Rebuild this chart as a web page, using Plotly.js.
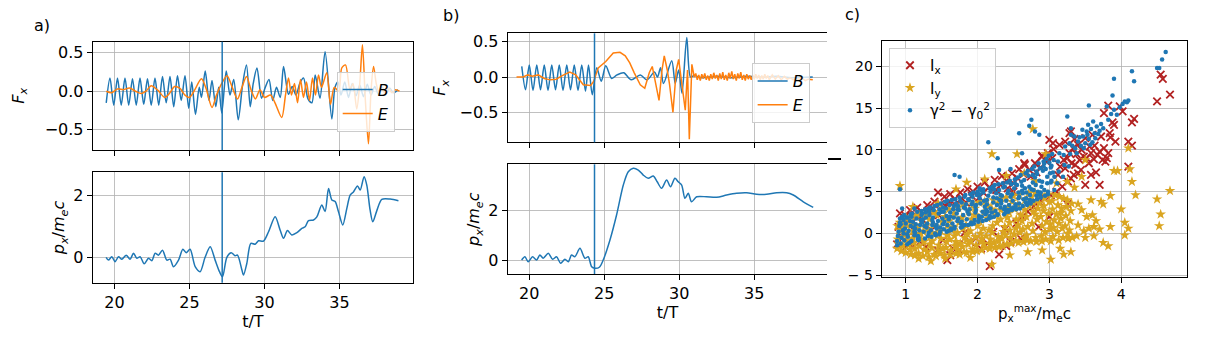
<!DOCTYPE html>
<html>
<head>
<meta charset="utf-8">
<script src="https://cdn.plot.ly/plotly-3.0.1.min.js"></script>
<style>
  html, body { margin: 0; padding: 0; background: #ffffff; }
  #chart { width: 1209px; height: 338px; }
</style>
</head>
<body>
<div id="chart"></div>
<script>
// panel a) : force components (t/T, F_x) and momentum
const markA = 27.18;
const bForceA = [
  [19.45,-0.15],[19.7,0.17],[19.95,-0.18],[20.2,0.17],[20.45,-0.18],[20.7,0.17],[20.95,-0.18],
  [21.2,0.16],[21.45,-0.18],[21.7,0.17],[21.95,-0.17],[22.2,0.16],[22.45,-0.18],[22.7,0.17],
  [22.95,-0.18],[23.2,0.19],[23.45,-0.15],[23.7,0.19],[23.95,-0.2],[24.2,0.2],[24.45,-0.12],
  [24.7,0.2],[24.95,-0.22],[25.15,0.12],[25.4,-0.3],[25.65,0.05],[25.8,-0.08],[26.05,0.26],
  [26.3,-0.12],[26.5,0.14],[26.75,-0.2],[26.95,0.05],[27.15,-0.28],[27.45,0.26],[27.7,-0.05],
  [27.95,0.15],[28.25,-0.37],[28.55,0.1],[28.8,0.34],[29.05,-0.2],[29.25,0.1],[29.5,0.3],
  [29.8,-0.09],[30.05,0.05],[30.3,0.15],[30.55,-0.12],[30.8,0.05],[31.05,-0.08],[31.27,0.32],
  [31.6,-0.04],[31.85,0.06],[32.1,-0.05],[32.35,0.1],[32.6,0.17],[32.9,-0.1],[33.16,-0.15],
  [33.38,0.21],[33.7,-0.09],[34.04,0.51],[34.49,-0.36],[34.7,0.05],[34.9,0.12],[35.1,-0.05],
  [35.35,0.12],[35.6,-0.08],[35.85,0.1],[36.1,-0.06],[36.35,0.08],[36.6,-0.07],[36.85,0.09],
  [37.1,-0.05],[37.35,0.06],[37.6,-0.04],[37.85,0.05],[38.1,-0.03],[38.35,0.04],[38.6,-0.02],[38.9,0.02]
];
const eForceA = [
  [19.45,0.0],[19.8,-0.02],[20.2,0.03],[20.6,0.02],[21.0,0.04],[21.4,0.0],[21.8,-0.03],[22.1,0.0],
  [22.45,0.07],[22.9,0.01],[23.35,-0.08],[23.7,-0.02],[24.0,0.06],[24.35,0.04],[24.7,-0.05],
  [25.0,-0.08],[25.3,0.0],[25.8,0.16],[26.1,0.04],[26.5,-0.21],[26.8,-0.05],[27.15,0.1],[27.5,0.2],
  [27.85,0.05],[28.2,-0.1],[28.5,0.05],[28.8,0.19],[29.1,0.02],[29.4,-0.1],[29.7,0.02],[30.0,-0.08],
  [30.4,-0.05],[30.7,-0.15],[31.15,-0.34],[31.4,-0.05],[31.6,0.17],[31.8,-0.05],[32.0,0.1],
  [32.2,-0.15],[32.4,0.15],[32.6,-0.08],[32.8,0.12],[33.0,-0.12],[33.2,0.17],[33.4,-0.05],
  [33.6,0.21],[33.8,0.05],[34.15,0.24],[34.4,-0.17],[34.65,0.05],[34.95,0.0],[35.15,0.3],
  [35.4,0.34],[35.7,0.02],[35.9,0.1],[36.15,-0.23],[36.35,0.1],[36.53,0.6],[36.72,-0.1],
  [36.93,-0.68],[37.1,0.0],[37.27,0.32],[37.45,0.1],[37.6,0.0],[37.8,0.05],[38.0,-0.02],
  [38.25,0.04],[38.5,-0.02],[38.75,0.02],[39.0,0.0]
];
const momentumA = [
  [19.44,0],[19.6,-0.09],[19.82,0.02],[20.04,-0.14],[20.27,0.02],[20.49,-0.06],[20.78,0.07],
  [21.04,-0.06],[21.27,0.13],[21.49,-0.03],[21.71,0.02],[21.98,-0.21],[22.27,-0.03],[22.49,-0.11],
  [22.71,0.13],[22.93,0.07],[23.2,0.23],[23.49,-0.09],[23.71,-0.06],[23.93,-0.3],[24.27,-0.09],
  [24.56,0.26],[24.78,0.15],[25.04,0.26],[25.38,-0.3],[25.71,-0.46],[26.04,0.0],[26.38,0.34],
  [26.71,-0.09],[27.0,-0.46],[27.2,-0.62],[27.49,0.0],[27.78,0.15],[28.04,0.05],[28.2,0.07],
  [28.49,-0.4],[28.6,-0.57],[28.82,-0.2],[29.09,0.45],[29.38,0.42],[29.6,0.53],[29.93,0.52],
  [30.27,0.82],[30.71,1.3],[31.04,0.88],[31.27,0.61],[31.53,0.86],[31.82,0.72],[32.16,0.79],
  [32.49,0.93],[32.71,0.98],[32.93,1.18],[33.27,1.2],[33.49,1.3],[33.82,1.68],[34.04,1.47],
  [34.27,2.21],[34.49,1.84],[34.71,1.79],[34.93,1.47],[35.22,1.04],[35.49,1.57],[35.71,2.0],
  [35.93,2.1],[36.2,2.29],[36.38,2.16],[36.64,2.59],[36.82,2.32],[37.04,1.52],[37.22,1.14],
  [37.49,1.5],[37.82,1.86],[38.38,1.87],[38.93,1.82]
];

// panel b)
const markB = 24.35;
const bForceB = [
  [19.5,0.15],[19.75,-0.18],[20.0,0.17],[20.25,-0.19],[20.5,0.17],[20.75,-0.18],[21.0,0.17],
  [21.25,-0.19],[21.5,0.17],[21.75,-0.18],[22.0,0.17],[22.25,-0.19],[22.5,0.17],[22.75,-0.18],
  [23.0,0.17],[23.25,-0.19],[23.5,0.17],[23.75,-0.2],[23.95,0.17],[24.2,-0.25],[24.5,0.13],
  [24.8,-0.06],[25.1,0.16],[25.5,-0.02],[25.85,0.03],[26.3,0.06],[26.8,-0.04],[27.4,0.03],
  [27.85,-0.04],[28.35,0.07],[28.55,0.0],[28.75,0.13],[28.95,-0.09],[29.5,0.23],[29.73,-0.09],
  [29.96,0.1],[30.18,-0.23],[30.5,0.56],[30.75,0.0],[31.0,0.02],[31.5,-0.01],[32.5,0.01],
  [33.5,-0.01],[34.5,0.01],[35.5,0.0],[36.5,0.01],[37.5,-0.01],[38.9,0.0]
];
const eForceB = [
  [19.15,0.0],[19.6,0.0],[19.9,0.03],[20.2,0.01],[20.6,0.03],[21.0,-0.02],[21.4,-0.04],[21.8,-0.03],
  [22.2,0.02],[22.7,0.07],[23.1,0.03],[23.6,-0.11],[24.1,-0.12],[24.3,-0.06],[24.6,0.13],[24.9,0.18],
  [25.1,0.22],[25.6,0.34],[26.05,0.35],[26.4,0.3],[26.7,0.2],[27.0,0.06],[27.4,-0.11],[27.7,-0.16],
  [28.0,0.06],[28.2,0.15],[28.4,-0.09],[28.65,-0.33],[28.85,0.1],[29.0,0.3],[29.2,0.1],[29.35,-0.1],
  [29.58,-0.5],[29.8,0.1],[29.96,0.25],[30.15,-0.1],[30.4,-0.47],[30.55,0.1],[30.67,-0.88],
  [30.84,0.18],[31.0,0.0],[31.1,0.05],[31.2,-0.04],[31.3,0.03],[31.4,-0.05],[31.5,0.04],[31.6,-0.02],
  [31.7,0.05],[31.8,-0.04],[31.9,0.02],[32.0,-0.05],[32.1,0.04],[32.2,-0.03],[32.3,0.06],[32.4,-0.02],
  [32.5,0.03],[32.6,-0.05],[32.7,0.05],[32.8,-0.03],[32.9,0.07],[33.0,-0.04],[33.1,0.03],[33.2,-0.05],
  [33.3,0.06],[33.4,-0.02],[33.5,0.08],[33.6,-0.03],[33.7,0.04],[33.8,-0.05],[33.9,0.05],[34.0,-0.02],
  [34.1,0.07],[34.2,-0.04],[34.3,0.03],[34.4,-0.05],[34.5,0.04],[34.6,-0.03],[34.7,0.02],[34.8,-0.04],
  [34.9,0.03],[35.0,-0.03],[35.1,0.04],[35.2,-0.02],[35.3,0.03],[35.4,-0.04],[35.5,0.02],[35.6,-0.03],
  [35.7,0.04],[35.8,-0.02],[35.9,0.02],[36.0,-0.04],[36.2,0.03],[36.4,-0.03],[36.6,0.02],[36.8,-0.04],
  [37.0,0.01],[37.2,-0.03],[37.4,-0.01],[37.6,-0.04],[37.8,-0.02],[38.0,-0.04],[38.2,-0.02],
  [38.4,-0.05],[38.6,-0.03],[38.9,-0.04]
];
const momentumB = [
  [19.49,0],[19.71,0.13],[19.93,-0.07],[20.22,0.13],[20.49,0],[20.71,0.2],[20.93,0.07],[21.27,0.27],
  [21.56,0.03],[21.82,0.13],[22.09,-0.13],[22.38,0.03],[22.6,-0.07],[22.82,0.2],[23.04,0.13],
  [23.38,0.47],[23.71,0.07],[23.93,0.13],[24.16,-0.27],[24.38,-0.33],[24.67,-0.29],[24.93,0],
  [25.38,0.8],[25.82,1.8],[26.27,3.0],[26.6,3.53],[26.93,3.67],[27.27,3.6],[27.6,3.4],[27.93,3.27],
  [28.27,3.36],[28.53,3.13],[28.82,2.87],[29.16,3.2],[29.42,2.93],[29.71,3.27],[29.93,3.13],
  [30.16,3.0],[30.38,2.47],[30.6,2.67],[30.82,2.33],[31.16,2.53],[31.82,2.53],[32.49,2.51],
  [33.16,2.6],[33.82,2.67],[34.49,2.69],[35.16,2.63],[35.82,2.63],[36.49,2.69],[37.16,2.69],
  [37.6,2.6],[38.27,2.33],[38.93,2.11]
];

// panel c) : quantities against p_x^max/m_e c
const ixPts = [
  [0.88,-1.3],[0.90,0.8],[0.92,2.4],[0.96,-0.5],[0.98,1.7],[1.00,2.1],[1.04,-1.1],[1.06,2.8],[1.08,1.2],
  [1.12,0.3],[1.14,2.2],[1.16,3.1],[1.20,-1.0],[1.22,2.6],[1.24,1.6],[1.28,-1.6],[1.30,3.4],[1.32,2.7],
  [1.36,0.4],[1.38,3.0],[1.40,3.8],[1.44,-2.0],[1.46,2.2],[1.48,3.5],[1.52,-0.8],[1.54,4.4],[1.56,3.2],
  [1.58,-3.2],[1.60,3.8],[1.62,4.7],[1.66,-1.8],[1.68,4.1],[1.70,3.3],[1.74,-1.3],[1.76,4.9],[1.78,4.2],
  [1.82,0.1],[1.84,3.7],[1.86,5.3],[1.90,-1.0],[1.92,4.5],[1.94,5.0],[1.98,-0.6],[2.00,5.6],[2.02,4.3],
  [2.06,-0.8],[2.08,4.9],[2.10,6.1],[2.14,-1.2],[2.16,5.5],[2.17,-3.9],[2.22,0.2],[2.24,6.4],[2.26,5.2],
  [2.30,-2.5],[2.32,5.8],[2.34,6.9],[2.38,0.5],[2.40,6.3],[2.42,5.4],[2.46,-1.0],[2.48,7.2],[2.50,6.0],
  [2.54,1.2],[2.56,6.6],[2.58,7.7],[2.62,2.0],[2.64,7.1],[2.66,8.2],[2.70,2.6],[2.72,7.6],[2.74,6.8],
  [2.78,3.2],[2.80,8.4],[2.82,7.3],[2.86,3.8],[2.88,7.9],[2.90,9.2],[2.94,4.2],[2.96,8.6],[2.98,9.6],
  [3.02,4.6],[3.04,9.0],[3.06,10.1],[3.10,5.0],[3.12,7.0],[3.14,10.6],[3.18,5.6],[3.20,8.8],[3.22,11.0],
  [3.26,6.2],[3.28,9.6],[3.30,12.2],[3.34,7.0],[3.36,8.2],[3.40,10.6],[3.44,7.6],[3.48,9.2],[3.50,11.4],
  [3.55,8.4],[3.58,9.6],[3.60,11.8],[3.65,7.3],[3.70,9.8],[3.72,11.6],[3.78,8.6],[3.80,9.0],[3.84,12.0],
  [3.22,7.8],[3.25,9.0],[3.31,8.4],[3.33,10.2],[3.38,9.5],[3.42,8.8],[3.45,10.0],[3.52,9.0],[3.56,10.4],
  [3.62,8.9],[3.63,10.5],[3.67,9.4],[3.74,8.8],[3.76,10.2],[3.82,9.6],[3.30,6.6],[3.40,7.2],[3.58,7.0],
  [3.50,5.8],[3.70,5.8],[3.85,11.5],[3.88,13.3],[3.92,11.0],[4.10,11.0],[4.10,8.0],[4.15,10.5],
  [4.18,13.7],[4.15,13.3],[4.02,14.6],[3.98,15.2],[3.90,13.0],[3.82,15.3],[3.76,14.4],[4.50,15.8],
  [4.55,19.0],[4.58,18.5],[4.68,16.6],[3.00,11.2],[2.90,9.3],[2.65,8.4],[3.28,12.0],[3.35,11.3],
  [3.05,10.8],[1.45,4.9],[1.00,-1.6],[1.10,-1.4],[1.62,-2.6],[1.75,-2.0],[2.05,-1.8],[2.40,-1.5],
  [2.60,-0.6],[2.85,0.8],[3.00,2.0],[3.25,3.5],[3.15,8.0],[2.50,5.0]
];
const iyPts = [
  [0.88,-1.8],[0.91,0.4],[0.89,-0.7],[0.92,1.3],[0.90,-1.2],[0.885,0.9],
  [0.97,0.7],[0.94,-2.1],[0.98,1.6],[0.95,-0.4],[0.96,-1.5],[0.975,0.1],
  [1.00,-2.3],[1.03,-0.2],[1.01,1.8],[1.04,-1.4],[1.02,0.9],[1.005,-0.8],
  [1.09,1.1],[1.06,-1.9],[1.10,0.3],[1.07,-2.5],[1.08,2.0],[1.095,-0.6],
  [1.12,-1.1],[1.15,2.2],[1.13,-2.6],[1.16,0.6],[1.14,-0.1],[1.125,-1.8],
  [1.21,0.0],[1.18,-2.4],[1.22,1.5],[1.19,-1.5],[1.20,2.3],[1.215,-0.7],
  [1.24,-2.7],[1.27,0.8],[1.25,-1.0],[1.28,2.4],[1.26,-1.9],[1.245,0.2],
  [1.33,1.7],[1.30,-2.2],[1.34,-0.4],[1.31,0.5],[1.32,-2.8],[1.335,-1.3],
  [1.36,-1.7],[1.39,2.6],[1.37,-0.9],[1.40,-2.5],[1.38,1.0],[1.365,0.1],
  [1.45,0.6],[1.42,-2.7],[1.46,-1.4],[1.43,2.2],[1.44,-0.3],[1.455,-2.0],
  [1.48,-2.4],[1.51,1.4],[1.49,-0.6],[1.52,-1.8],[1.50,2.8],[1.485,0.3],
  [1.57,-1.0],[1.54,-2.6],[1.58,0.9],[1.55,2.0],[1.56,-1.7],[1.575,-0.2],
  [1.60,2.9],[1.63,-2.0],[1.61,-0.7],[1.64,0.4],[1.62,-2.6],[1.605,1.5],
  [1.69,-1.5],[1.66,0.7],[1.70,-2.4],[1.67,2.4],[1.68,-0.3],[1.695,-1.0],
  [1.72,0.1],[1.75,-2.5],[1.73,3.1],[1.76,-1.2],[1.74,1.3],[1.725,-1.9],
  [1.81,-2.2],[1.78,1.9],[1.82,-0.5],[1.79,-1.6],[1.80,0.6],[1.815,3.3],
  [1.84,1.0],[1.87,-1.3],[1.85,-2.3],[1.88,2.7],[1.86,-0.1],[1.845,-0.8],
  [1.93,-1.9],[1.90,0.3],[1.94,3.5],[1.91,-0.9],[1.92,1.7],[1.935,-2.2],
  [1.96,2.2],[1.99,-2.1],[1.97,-0.4],[2.00,0.9],[1.98,-1.4],[1.965,3.0],
  [2.05,-1.0],[2.02,3.7],[2.06,-2.0],[2.03,1.4],[2.04,0.0],[2.055,-0.6],
  [2.08,0.6],[2.11,-1.7],[2.09,2.5],[2.12,-0.3],[2.10,3.8],[2.085,-1.2],
  [2.17,-1.8],[2.14,1.8],[2.18,-0.7],[2.15,3.3],[2.16,0.4],[2.175,-1.3],
  [2.20,2.9],[2.23,-1.1],[2.21,0.9],[2.24,-1.7],[2.22,4.0],[2.205,0.1],
  [2.29,-0.4],[2.26,2.2],[2.30,-1.6],[2.27,1.3],[2.28,3.6],[2.295,-0.9],
  [2.32,1.7],[2.35,-1.5],[2.33,4.2],[2.36,0.2],[2.34,-0.6],[2.325,2.8],
  [2.41,-1.3],[2.38,0.8],[2.42,3.1],[2.39,-0.2],[2.40,4.3],[2.415,1.9],
  [2.44,2.5],[2.47,-1.2],[2.45,0.4],[2.48,3.8],[2.46,-0.5],[2.445,1.3],
  [2.53,-0.9],[2.50,4.5],[2.54,1.7],[2.51,-0.1],[2.52,2.9],[2.535,0.6],
  [2.56,3.4],[2.59,0.1],[2.57,-1.1],[2.60,2.2],[2.58,4.6],[2.565,1.0],
  [2.65,-0.6],[2.62,1.5],[2.66,4.0],[2.63,0.5],[2.64,-1.0],[2.655,2.8],
  [2.68,2.0],[2.71,4.8],[2.69,-0.8],[2.72,3.3],[2.70,0.8],[2.685,-0.2],
  [2.77,0.3],[2.74,-0.9],[2.78,2.6],[2.75,4.4],[2.76,1.2],[2.775,3.7],
  [2.80,4.9],[2.83,1.7],[2.81,-0.5],[2.84,3.0],[2.82,-1.0],[2.805,2.3],
  [2.89,-0.3],[2.86,3.6],[2.90,0.9],[2.87,4.6],[2.88,2.0],[2.895,-0.9],
  [2.92,2.7],[2.95,-0.7],[2.93,4.2],[2.96,1.4],[2.94,0.2],[2.925,3.3],
  [3.01,0.5],[2.98,4.7],[3.02,-0.9],[2.99,2.4],[3.00,3.8],[3.015,1.1],
  [3.04,3.9],[3.07,1.6],[3.05,-0.4],[3.08,4.6],[3.06,0.7],[3.045,2.9],
  [3.13,-0.8],[3.10,2.3],[3.14,4.4],[3.11,0.2],[3.12,3.4],[3.135,1.2],
  [3.16,1.8],[3.19,-0.5],[3.17,3.0],[3.20,4.2],[3.18,0.6],[3.165,2.5],
  [3.25,4.0],[3.22,0.9],[3.26,-0.6],[3.23,2.1],[3.24,3.2],[3.255,0.0],
  [3.28,0.4],[3.31,3.6],[3.29,1.5],[3.32,-0.5],[3.30,2.7],
  [3.30,-2.2],[3.02,-3.1],[2.20,-3.7],[1.35,-3.3],[1.55,-3.0],[1.18,-3.0],[3.75,-1.1],[3.82,-1.5],[4.05,-0.2],
  [4.10,0.6],[4.05,1.3],[4.00,2.9],[4.20,4.6],[4.15,6.2],[4.12,7.7],[4.10,10.2],[3.90,7.5],[3.95,7.5],[3.85,4.5],
  [3.75,3.5],[3.72,3.8],[3.60,2.2],[3.65,1.5],[3.55,0.6],[3.45,2.8],[4.50,4.1],[4.55,2.3],[4.53,0.9],[4.68,5.1],
  [2.77,12.5],[2.20,9.5],[2.55,9.5],[2.95,9.5],[2.65,7.2],[0.92,5.7],[3.40,1.0],[3.48,0.3],[3.52,2.0],[3.58,4.0],
  [3.62,0.8],[3.35,5.5],[3.45,6.8],[3.50,8.8],[3.40,3.5],[3.70,0.5],[3.38,-0.3],[3.50,-0.5],[3.62,-0.3],[3.85,0.8],
  [3.25,6.2],[2.10,6.5],[1.70,5.3],[1.85,6.1],[1.45,3.6],[1.10,3.2],[2.40,6.9],[2.80,6.3],[3.10,6.0],[2.45,-2.6],
  [2.70,-2.2],[2.90,-2.0],[1.90,-2.9],[3.15,-1.8],[3.20,-2.5]
];
const gammaPts = [
  [0.88,-1.4],[0.91,0.9],[0.89,-0.3],[0.92,1.8],[0.90,0.2],[0.88,-0.9],[0.92,1.3],
  [0.96,0.4],[0.93,-1.2],[0.97,1.6],[0.94,-0.5],[0.95,2.0],[0.97,0.0],[0.93,1.1],
  [0.98,-0.8],[1.01,1.9],[0.99,0.6],[1.02,-1.3],[1.00,1.2],[0.98,2.2],[1.02,-0.1],
  [1.06,1.5],[1.03,-0.4],[1.07,2.3],[1.04,0.3],[1.05,-1.1],[1.07,0.9],[1.03,1.9],
  [1.08,-0.9],[1.11,0.7],[1.09,2.4],[1.12,-0.2],[1.10,1.4],[1.08,2.0],[1.12,0.2],
  [1.16,2.6],[1.13,0.1],[1.17,-0.7],[1.14,1.1],[1.15,1.8],[1.17,-0.3],[1.13,0.6],
  [1.18,-0.5],[1.21,1.6],[1.19,0.4],[1.22,2.7],[1.20,1.0],[1.18,-0.8],[1.22,2.2],
  [1.26,0.9],[1.23,2.4],[1.27,-0.6],[1.24,1.7],[1.25,0.2],[1.27,2.9],[1.23,1.3],
  [1.28,1.9],[1.31,-0.3],[1.29,0.7],[1.32,3.0],[1.30,1.2],[1.28,2.5],[1.32,0.1],
  [1.36,-0.4],[1.33,2.2],[1.37,1.0],[1.34,3.1],[1.35,0.4],[1.37,1.6],[1.33,2.7],
  [1.38,1.3],[1.41,0.0],[1.39,2.8],[1.42,0.8],[1.40,3.3],[1.38,1.9],[1.42,-0.2],
  [1.46,2.4],[1.43,0.6],[1.47,-0.1],[1.44,3.4],[1.45,1.5],[1.47,2.9],[1.43,1.0],
  [1.48,0.2],[1.51,1.8],[1.49,3.6],[1.52,1.1],[1.50,2.6],[1.48,0.7],[1.52,3.1],
  [1.56,3.0],[1.53,0.5],[1.57,2.1],[1.54,1.4],[1.55,3.8],[1.57,0.2],[1.53,2.6],
  [1.58,1.0],[1.61,3.4],[1.59,0.3],[1.62,2.5],[1.60,1.7],[1.58,3.9],[1.62,2.0],
  [1.66,2.9],[1.63,0.6],[1.67,1.9],[1.64,4.0],[1.65,1.2],[1.67,3.3],[1.63,0.4],
  [1.68,0.8],[1.71,2.4],[1.69,4.1],[1.72,1.5],[1.70,3.6],[1.68,0.6],[1.72,2.9],
  [1.76,3.9],[1.73,1.8],[1.77,0.7],[1.74,2.8],[1.75,4.3],[1.77,1.2],[1.73,3.3],
  [1.78,1.4],[1.81,3.1],[1.79,0.8],[1.82,4.4],[1.80,2.2],[1.78,3.7],[1.82,1.0],
  [1.86,2.6],[1.83,4.6],[1.87,1.0],[1.84,3.5],[1.85,1.7],[1.87,4.1],[1.83,3.0],
  [1.88,4.0],[1.91,1.3],[1.89,2.9],[1.92,1.1],[1.90,4.7],[1.88,2.3],[1.92,3.5],
  [1.96,1.6],[1.93,3.8],[1.97,2.5],[1.94,4.9],[1.95,1.2],[1.97,3.2],[1.93,4.4],
  [1.98,3.4],[2.01,1.4],[1.99,4.6],[2.02,2.1],[2.00,5.0],[1.98,2.8],[2.02,1.8],
  [2.06,2.0],[2.03,4.2],[2.07,1.5],[2.04,3.6],[2.05,5.2],[2.07,2.6],[2.03,4.7],
  [2.08,4.9],[2.11,2.3],[2.09,3.9],[2.12,1.6],[2.10,3.2],[2.08,5.3],[2.12,2.8],
  [2.16,1.8],[2.13,3.5],[2.17,5.4],[2.14,2.6],[2.15,4.5],[2.17,2.1],[2.13,4.0],
  [2.18,3.0],[2.21,5.6],[2.19,1.9],[2.22,4.3],[2.20,2.5],[2.18,5.0],[2.22,3.7],
  [2.26,4.8],[2.23,2.0],[2.27,3.4],[2.24,5.8],[2.25,2.7],[2.27,4.2],[2.23,5.3],
  [2.28,2.3],[2.31,4.0],[2.29,5.9],[2.32,3.1],[2.30,5.2],[2.28,2.2],[2.32,4.6],
  [2.36,5.5],[2.33,3.6],[2.37,2.3],[2.34,4.5],[2.35,6.0],[2.37,2.9],[2.33,3.9],
  [2.38,3.2],[2.41,6.1],[2.39,2.5],[2.42,4.8],[2.40,3.9],[2.38,5.6],[2.42,2.8],
  [2.46,4.4],[2.43,2.6],[2.47,5.9],[2.44,3.4],[2.45,6.3],[2.47,3.0],[2.43,5.1],
  [2.48,2.8],[2.51,5.4],[2.49,3.9],[2.52,6.5],[2.50,3.1],[2.48,4.7],[2.52,6.0],
  [2.56,6.7],[2.53,3.5],[2.57,4.9],[2.54,2.9],[2.55,5.8],[2.57,4.2],[2.53,3.2],
  [2.58,3.6],[2.61,6.2],[2.59,3.0],[2.62,5.1],[2.60,7.0],[2.58,4.4],[2.62,5.7],
  [2.66,5.4],[2.63,3.3],[2.67,7.2],[2.64,4.1],[2.65,6.4],[2.67,3.7],[2.63,4.8],
  [2.68,4.2],[2.71,6.9],[2.69,3.4],[2.72,5.6],[2.70,7.5],[2.68,4.9],[2.72,3.8],
  [2.76,7.7],[2.73,4.6],[2.77,6.1],[2.74,3.6],[2.75,5.3],[2.77,7.0],[2.73,4.0],
  [2.78,3.9],[2.81,5.8],[2.79,8.0],[2.82,4.5],[2.80,6.7],[2.78,5.2],[2.82,7.4],
  [2.86,6.3],[2.83,4.1],[2.87,7.8],[2.84,5.0],[2.85,8.4],[2.87,4.6],[2.83,7.1],
  [2.88,4.3],[2.91,7.5],[2.89,5.6],[2.92,8.6],[2.90,6.2],[2.88,4.9],[2.92,8.0],
  [2.96,8.9],[2.93,5.2],[2.97,6.8],[2.94,4.5],[2.95,7.7],[2.97,6.0],[2.93,8.4],
  [2.98,5.0],[3.01,7.2],[2.99,9.3],[3.02,6.1],[3.00,8.5],[2.98,4.7],[3.02,7.9],
  [3.06,8.8],[3.03,6.3],[3.07,5.2],[3.04,9.5],[3.05,7.3],[3.07,6.8],[3.03,8.1],
  [3.11,6.0],[3.13,7.4],[3.12,8.6],[3.14,9.6],[3.19,6.8],[3.21,8.2],[3.20,9.4],[3.22,10.4],
  [3.27,8.0],[3.29,9.5],[3.28,10.8],[3.30,11.8],[3.32,10.5],[3.35,11.6],[3.42,11.5],[3.48,10.2],
  [3.53,11.8],[3.57,10.6],[3.64,11.4],[3.70,12.3],
  [3.36,10.2],[3.40,11.0],[3.44,10.5],[3.47,11.6],[3.50,10.8],[3.52,12.2],[3.55,11.3],[3.58,12.5],[3.60,10.9],
  [3.63,12.0],[3.66,12.8],[3.68,11.9],[3.72,13.1],[3.75,12.6],[3.46,12.4],[3.38,9.6],[3.54,13.0],[3.61,13.4],
  [3.82,13.6],[3.86,14.3],[3.90,14.8],[3.94,14.2],[3.98,15.1],[4.02,15.5],[4.05,15.8],[4.08,15.7],[3.88,16.5],
  [4.10,15.9],[3.80,15.2],
  [0.92,5.3],[2.15,10.9],[2.28,9.0],[2.58,12.0],[2.75,13.6],[2.72,12.9],[2.86,11.8],[2.80,12.2],[2.46,7.7],
  [2.62,9.6],[3.25,14.0],[3.30,12.6],[3.55,15.3],[3.90,18.5],[4.15,19.4],[4.18,18.2],[4.50,19.8],[4.53,19.8],
  [4.57,20.8],[4.62,21.7],[1.68,7.0],[1.75,6.8],[2.30,7.6],[2.03,5.4],[1.12,3.0],[0.95,3.0]
];

const fTicks = [-0.5, 0, 0.5];
const fTickText = ["\u22120.5", "0.0", "0.5"];
const tTicks = [20, 25, 30, 35];
const pTicks = [0, 2];
const cxTicks = [1, 2, 3, 4];
const cyTicks = [-5, 0, 5, 10, 15, 20];
const cyTickText = ["\u2212 5", "0", "5", "10", "15", "20"];

const BLUE = "#1f77b4";
const ORANGE = "#ff7f0e";
const FONT = "DejaVu Sans, sans-serif";
const xs = (arr) => arr.map((d) => d[0]);
const ys = (arr) => arr.map((d) => d[1]);

const lineTrace = (pts, color, name, xa, ya, legend, show, shape) => ({
  type: "scatter",
  mode: "lines",
  x: xs(pts),
  y: ys(pts),
  name,
  xaxis: xa,
  yaxis: ya,
  legend,
  showlegend: show,
  line: { color, width: 1.5, shape: shape || "spline", smoothing: 0.8 },
  hoverinfo: "skip"
});

const traces = [
  lineTrace(bForceA, BLUE, "<i>B</i>", "x", "y", "legend", true),
  lineTrace(eForceA, ORANGE, "<i>E</i>", "x", "y", "legend", true),
  lineTrace(momentumA, BLUE, "p", "x2", "y2", "legend", false),
  lineTrace(bForceB, BLUE, "<i>B</i>", "x3", "y3", "legend2", true),
  lineTrace(eForceB, ORANGE, "<i>E</i>", "x3", "y3", "legend2", true, "linear"),
  lineTrace(momentumB, BLUE, "p", "x4", "y4", "legend2", false),
  {
    type: "scatter", mode: "markers", x: xs(ixPts), y: ys(ixPts), name: "I<sub>x</sub>",
    xaxis: "x5", yaxis: "y5", legend: "legend3",
    marker: { symbol: "x-thin-open", size: 7.5, color: "#b22222", line: { color: "#b22222", width: 1.8 } }
  },
  {
    type: "scatter", mode: "markers", x: xs(iyPts), y: ys(iyPts), name: "I<sub>y</sub>",
    xaxis: "x5", yaxis: "y5", legend: "legend3",
    marker: { symbol: "star", size: 8, color: "#daa520", line: { width: 0 } }
  },
  {
    type: "scatter", mode: "markers", x: xs(gammaPts), y: ys(gammaPts),
    name: "\u03b3<sup>2</sup> \u2212 \u03b3<sub>0</sub><sup>2</sup>",
    xaxis: "x5", yaxis: "y5", legend: "legend3",
    marker: { symbol: "circle", size: 4.5, color: BLUE, line: { width: 0 } }
  }
];

const axisBase = {
  showline: true, linecolor: "#000000", linewidth: 1, mirror: true,
  ticks: "outside", ticklen: 5, tickwidth: 1, tickcolor: "#000000",
  showgrid: true, gridcolor: "#b0b0b0", gridwidth: 0.8, zeroline: false,
  tickfont: { family: FONT, size: 16, color: "#000000" }
};
const tTitle = { text: "t/T", font: { family: FONT, size: 16, color: "#000" }, standoff: 4 };
const fTitle = { text: "<i>F</i><sub><i>x</i></sub>", font: { family: FONT, size: 16, color: "#000" }, standoff: 16 };
const fTitleB = { text: "<i>F</i><sub><i>x</i></sub>", font: { family: FONT, size: 16, color: "#000" }, standoff: 9 };
const pTitle = { text: "<i>p</i><sub><i>x</i></sub>/<i>m</i><sub><i>e</i></sub><i>c</i>", font: { family: FONT, size: 16, color: "#000" }, standoff: 4 };

const legendBase = {
  xanchor: "left", yanchor: "top",
  bgcolor: "rgba(255,255,255,0.8)", bordercolor: "#cccccc", borderwidth: 1,
  font: { family: FONT, size: 16, color: "#000" }, itemwidth: 30, tracegroupgap: 0
};

const vline = (x, xa, ya) => ({
  type: "line", xref: xa, yref: ya + " domain", x0: x, x1: x, y0: 0, y1: 1,
  line: { color: BLUE, width: 1.5 }
});

const layout = {
  width: 1209, height: 338,
  margin: { l: 0, r: 0, t: 0, b: 0 },
  paper_bgcolor: "#ffffff", plot_bgcolor: "#ffffff",
  font: { family: FONT, color: "#000" },
  showlegend: true,
  xaxis: { ...axisBase, domain: [0.0767, 0.3416], anchor: "y", range: [18.55, 39.9], tickvals: tTicks, showticklabels: false },
  yaxis: { ...axisBase, domain: [0.5562, 0.8766], anchor: "x", range: [-0.76, 0.64], tickvals: fTicks, ticktext: fTickText, title: fTitle },
  xaxis2: { ...axisBase, domain: [0.0767, 0.3416], anchor: "y2", range: [18.55, 39.9], tickvals: tTicks, title: tTitle },
  yaxis2: { ...axisBase, domain: [0.1636, 0.4902], anchor: "x2", range: [-0.815, 2.73], tickvals: pTicks, title: pTitle },
  xaxis3: { ...axisBase, domain: [0.4199, 0.6843], anchor: "y3", range: [18.56, 39.87], tickvals: tTicks, showticklabels: false },
  yaxis3: { ...axisBase, mirror: false, domain: [0.579, 0.9015], anchor: "x3", range: [-0.925, 0.62], tickvals: fTicks, ticktext: fTickText, title: fTitleB },
  xaxis4: { ...axisBase, domain: [0.4199, 0.6843], anchor: "y4", range: [18.56, 39.87], tickvals: tTicks, title: tTitle },
  yaxis4: { ...axisBase, mirror: false, domain: [0.1893, 0.5139], anchor: "x4", range: [-0.56, 3.83], tickvals: pTicks, title: pTitle },
  xaxis5: {
    ...axisBase, domain: [0.7293, 0.982], anchor: "y5", range: [0.666, 4.92], tickvals: cxTicks,
    tickfont: { family: FONT, size: 14, color: "#000" },
    title: { text: "p<sub>x</sub><sup>max</sup>/m<sub>e</sub>c", font: { family: FONT, size: 15, color: "#000" }, standoff: 4 }
  },
  yaxis5: {
    ...axisBase, domain: [0.1814, 0.8796], anchor: "x5", range: [-5.17, 23.06], tickvals: cyTicks, ticktext: cyTickText,
    tickfont: { family: FONT, size: 14, color: "#000" }
  },
  legend: { ...legendBase, x: 0.2785, y: 0.7879 },
  legend2: { ...legendBase, x: 0.6217, y: 0.8136 },
  legend3: { ...legendBase, x: 0.7353, y: 0.858, font: { family: FONT, size: 15, color: "#000" } },
  shapes: [
    vline(markA, "x", "y"),
    vline(markA, "x2", "y2"),
    vline(markB, "x3", "y3"),
    vline(markB, "x4", "y4"),
    { type: "line", xref: "paper", yref: "paper", x0: 0.6849, x1: 0.6956, y0: 0.5296, y1: 0.5296, line: { color: "#000", width: 2 } }
  ],
  annotations: [
    { xref: "paper", yref: "paper", x: 0.0265, y: 0.926, xanchor: "left", yanchor: "middle", text: "a)", showarrow: false, font: { family: FONT, size: 16 } },
    { xref: "paper", yref: "paper", x: 0.3648, y: 0.953, xanchor: "left", yanchor: "middle", text: "b)", showarrow: false, font: { family: FONT, size: 16 } },
    { xref: "paper", yref: "paper", x: 0.6973, y: 0.956, xanchor: "left", yanchor: "middle", text: "c)", showarrow: false, font: { family: FONT, size: 16 } }
  ]
};

Plotly.newPlot("chart", traces, layout, { displayModeBar: false, staticPlot: true });
</script>
</body>
</html>
